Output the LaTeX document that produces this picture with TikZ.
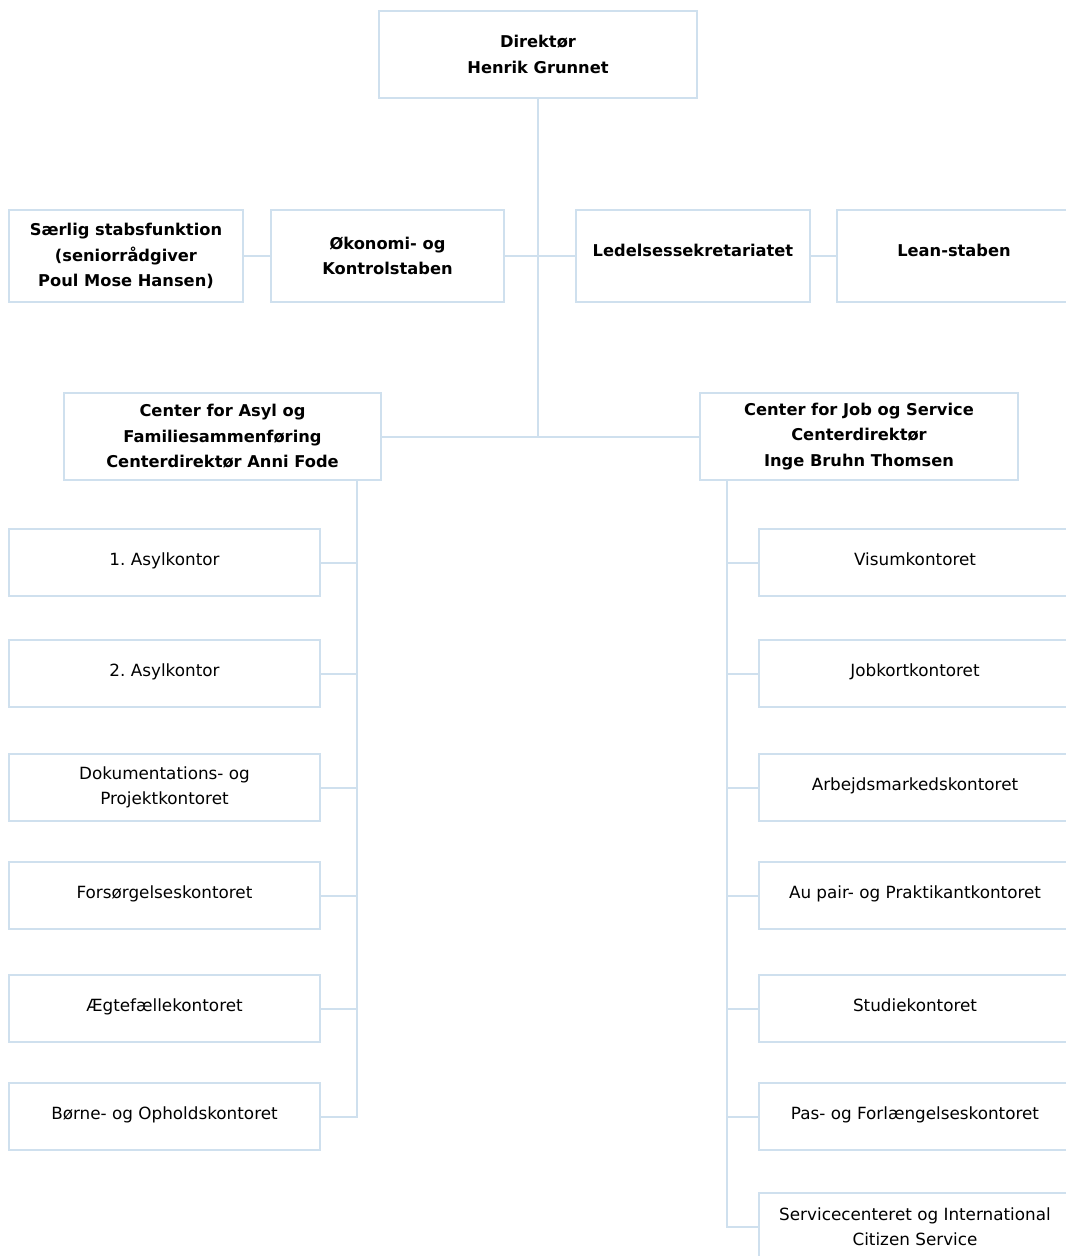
\documentclass[tikz,border=0pt]{standalone}
\usepackage{fontspec}
\setmainfont{DejaVu Sans}
\usepackage{tikz}
\usetikzlibrary{positioning}
\definecolor{boxline}{HTML}{CFE0EE}
\frenchspacing

\begin{document}
\begin{tikzpicture}[x=0.75pt, y=-0.75pt,
    box/.style={rectangle, draw=boxline, line width=1.5pt, fill=white, align=center,
        inner sep=0pt, font=\fontsize{12.6}{19}\selectfont},
    head/.style={box, font=\fontsize{12.2}{19}\selectfont\bfseries},
    kid/.style={box, minimum width=233.5pt, minimum height=50pt},
    staff/.style={head, minimum width=175pt, minimum height=69pt},
    link/.style={draw=boxline, line width=1.5pt}
    ]
    \useasboundingbox (0,0) rectangle (1066,1256);

    % ledelse
    \node[head, minimum width=238.5pt, minimum height=65pt] (dir) at (538,54.5) {Direktør\\Henrik Grunnet};

    % stabe
    \node[staff] (saerlig) at (126,256) {Særlig stabsfunktion\\(seniorrådgiver\\Poul Mose Hansen)};
    \node[staff] (okonomi) at (387.5,256) {Økonomi- og\\Kontrolstaben};
    \node[staff] (sekr) at (693,256) {\raisebox{8pt}{Ledelsessekretariatet}};
    \node[staff] (lean) at (954,256) {\raisebox{8pt}{Lean-staben}};

    % centre
    \node[head, minimum width=238pt, minimum height=65pt] (asyl) at (222.5,436.5) {Center for Asyl og\\Familiesammenføring\\Centerdirektør Anni Fode};
    \node[head, minimum width=238.5pt, minimum height=65pt] (job) at (859,436.5) {Center for Job og Service\\Centerdirektør\\Inge Bruhn Thomsen};

    % kontorer, asyl
    \node[kid] (a1) at (164.5,562.5) {\raisebox{5pt}{1. Asylkontor}};
    \node[kid] (a2) at (164.5,673.5) {\raisebox{5pt}{2. Asylkontor}};
    \node[kid] (a3) at (164.5,787.5) {Dokumentations- og\\Projektkontoret};
    \node[kid] (a4) at (164.5,895.5) {\raisebox{5pt}{Forsørgelseskontoret}};
    \node[kid] (a5) at (164.5,1008.5) {\raisebox{5pt}{Ægtefællekontoret}};
    \node[kid] (a6) at (164.5,1116.5) {\raisebox{5pt}{Børne- og Opholdskontoret}};

    % kontorer, job og service
    \node[kid] (j1) at (915,562.5) {\raisebox{5pt}{Visumkontoret}};
    \node[kid] (j2) at (915,673.5) {\raisebox{5pt}{Jobkortkontoret}};
    \node[kid] (j3) at (915,787.5) {\raisebox{5pt}{Arbejdsmarkedskontoret}};
    \node[kid] (j4) at (915,895.5) {\raisebox{5pt}{Au pair- og Praktikantkontoret}};
    \node[kid] (j5) at (915,1008.5) {\raisebox{5pt}{Studiekontoret}};
    \node[kid] (j6) at (915,1116.5) {\raisebox{5pt}{Pas- og Forlængelseskontoret}};
    \node[kid] (j7) at (915,1226.5) {Servicecenteret og International\\Citizen Service};

    % linjer
    \coordinate (ltop) at (357,480);
    \coordinate (rtop) at (727,480);
    \draw[link] (dir.south) -- (dir.south |- asyl.east);
    \draw[link] (asyl.east) -- (job.west);
    \draw[link] (saerlig.east) -- (okonomi.west);
    \draw[link] (okonomi.east) -- (sekr.west);
    \draw[link] (sekr.east) -- (lean.west);

    \draw[link] (ltop) |- (a6.east);
    \draw[link] (a1.east) -- (a1.east -| ltop);
    \draw[link] (a2.east) -- (a2.east -| ltop);
    \draw[link] (a3.east) -- (a3.east -| ltop);
    \draw[link] (a4.east) -- (a4.east -| ltop);
    \draw[link] (a5.east) -- (a5.east -| ltop);

    \draw[link] (rtop) |- (j7.west);
    \draw[link] (j1.west) -- (j1.west -| rtop);
    \draw[link] (j2.west) -- (j2.west -| rtop);
    \draw[link] (j3.west) -- (j3.west -| rtop);
    \draw[link] (j4.west) -- (j4.west -| rtop);
    \draw[link] (j5.west) -- (j5.west -| rtop);
    \draw[link] (j6.west) -- (j6.west -| rtop);

\end{tikzpicture}
\end{document}
